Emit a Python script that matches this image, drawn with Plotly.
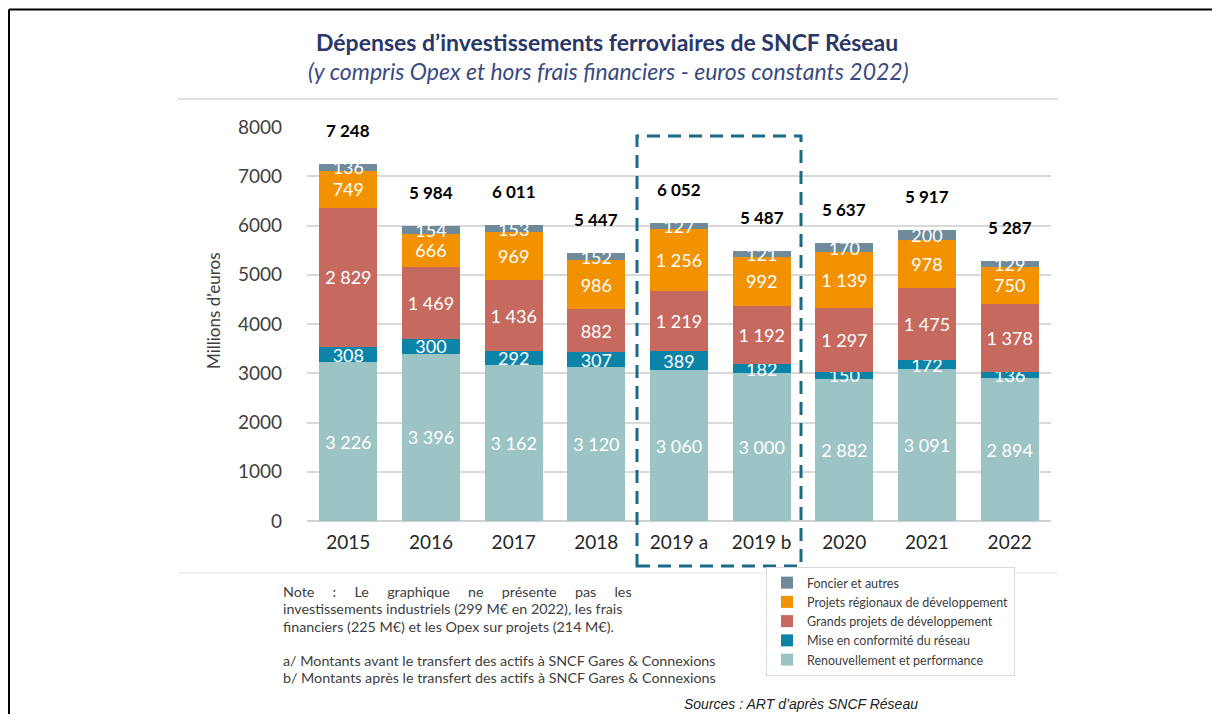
import plotly.graph_objects as go

# ---------------- data ----------------
categories = ["2015", "2016", "2017", "2018", "2019 a", "2019 b", "2020", "2021", "2022"]
renouvellement = [3226, 3396, 3162, 3120, 3060, 3000, 2882, 3091, 2894]
mise_conformite = [308, 300, 292, 307, 389, 182, 150, 172, 136]
grands_projets = [2829, 1469, 1436, 882, 1219, 1192, 1297, 1475, 1378]
projets_regionaux = [749, 666, 969, 986, 1256, 992, 1139, 978, 750]
foncier = [136, 154, 153, 152, 127, 121, 170, 200, 129]
totals = [7248, 5984, 6011, 5447, 6052, 5487, 5637, 5917, 5287]
y_ticks = [0, 1000, 2000, 3000, 4000, 5000, 6000, 7000, 8000]

series_names = [
    "Renouvellement et performance",
    "Mise en conformité du réseau",
    "Grands projets de développement",
    "Projets régionaux de développement",
    "Foncier et autres",
]
series_values = [renouvellement, mise_conformite, grands_projets, projets_regionaux, foncier]
series_colors = ["#9DC4C4", "#0C84A8", "#C66A60", "#F29200", "#6F8A9A"]

note_lines = [
    "Note : Le graphique ne présente pas les",
    "investissements industriels (299 M€ en 2022), les frais",
    "financiers (225 M€) et les Opex sur projets (214 M€).",
    "a/ Montants avant le transfert des actifs à SNCF Gares &amp; Connexions",
    "b/ Montants après le transfert des actifs à SNCF Gares &amp; Connexions",
]

# ---------------- layout geometry (screen pixels) ----------------
SW, SH = 1220, 722
OFF = 8  # page body margin on each side
W, H = SW - 2 * OFF, SH - 2 * OFF
RIGHT, BOTTOM = OFF + W, OFF + H  # screen coords of figure's right/bottom edges
PL, PR, PT, PB = 307, 1051, 127, 521  # plot area in screen pixels


def px_x(p):
    return (p - PL) / (PR - PL)


def px_y(p):
    return (PB - p) / (PB - PT)


def fmt(v):
    return f"{v:,}".replace(",", " ")


FONT = "Lato, 'Open Sans', sans-serif"

fig = go.Figure()
for name, vals, col in zip(series_names, series_values, series_colors):
    fig.add_trace(go.Bar(
        x=categories, y=vals, name=name,
        marker=dict(color=col, line=dict(width=0)),
        text=[fmt(v) for v in vals],
        textposition="inside", insidetextanchor="middle",
        constraintext="none", textangle=0,
        textfont=dict(color="white", size=18, family=FONT),
        cliponaxis=False,
    ))

annotations = []
for i, t in enumerate(totals):
    annotations.append(dict(
        x=i, y=t, xref="x", yref="y", text="<b>" + fmt(t) + "</b>",
        showarrow=False, yanchor="bottom", yshift=21,
        font=dict(size=17, color="#000000", family=FONT),
    ))

# titles
annotations.append(dict(
    x=px_x(607), y=px_y(42), xref="paper", yref="paper",
    text="<b>Dépenses d’investissements ferroviaires de SNCF Réseau</b>",
    showarrow=False, xanchor="center", yanchor="middle",
    font=dict(size=23, color="#2B3768", family=FONT),
))
annotations.append(dict(
    x=px_x(608), y=px_y(71), xref="paper", yref="paper",
    text="<i>(y compris Opex et hors frais financiers - euros constants 2022)</i>",
    showarrow=False, xanchor="center", yanchor="middle",
    font=dict(size=23, color="#3A4A80", family=FONT),
))
# y axis title
annotations.append(dict(
    x=px_x(213), y=px_y(311), xref="paper", yref="paper",
    text="Millions d'euros", textangle=-90,
    showarrow=False, xanchor="center", yanchor="middle",
    font=dict(size=17, color="#404040", family=FONT),
))
# note (one annotation per line; first line spread like the justified original)
note_y = [591, 608.5, 626, 660, 677]
for k, (line, yy) in enumerate(zip(note_lines, note_y)):
    txt = line
    if k == 0:
        txt = line.replace(" ", " \u00a0\u00a0\u00a0\u00a0")
    annotations.append(dict(
        x=px_x(281), y=px_y(yy), xref="paper", yref="paper",
        text=txt, showarrow=False, xanchor="left", yanchor="middle", align="left",
        font=dict(size=14.3, color="#404040", family=FONT),
    ))
# sources
annotations.append(dict(
    x=px_x(682), y=px_y(704), xref="paper", yref="paper",
    text="<i>Sources : ART d’après SNCF Réseau</i>",
    showarrow=False, xanchor="left", yanchor="middle",
    font=dict(size=14, color="#222222", family="'Liberation Sans', Arial, sans-serif"),
))

shapes = [
    # dashed highlight box
    dict(type="rect", xref="paper", yref="paper",
         x0=px_x(637), x1=px_x(801), y0=px_y(566), y1=px_y(136),
         line=dict(color="#1B6A87", width=3, dash="13px,8px"), layer="above"),
    # separator lines
    dict(type="line", xref="paper", yref="paper",
         x0=px_x(178), x1=px_x(1058), y0=px_y(99), y1=px_y(99),
         line=dict(color="#D6D6D6", width=1.5)),
    dict(type="line", xref="paper", yref="paper",
         x0=px_x(178), x1=px_x(1058), y0=px_y(573), y1=px_y(573),
         line=dict(color="#E4E4E4", width=1)),
    # frame lines
    dict(type="line", xref="paper", yref="paper",
         x0=px_x(9), x1=px_x(RIGHT), y0=px_y(9.5), y1=px_y(9.5),
         line=dict(color="#000000", width=2)),
    dict(type="line", xref="paper", yref="paper",
         x0=px_x(9), x1=px_x(9), y0=px_y(9.5), y1=px_y(BOTTOM),
         line=dict(color="#000000", width=2)),
]

fig.update_layout(
    width=W, height=H,
    margin=dict(l=PL - OFF, r=RIGHT - PR, t=PT - OFF, b=BOTTOM - PB, pad=0),
    paper_bgcolor="white", plot_bgcolor="white",
    barmode="stack", bargap=0.3,
    showlegend=True,
    legend=dict(
        x=px_x(766), y=px_y(567), xanchor="left", yanchor="top",
        traceorder="reversed", bgcolor="white",
        bordercolor="#D9D9D9", borderwidth=1,
        font=dict(size=12.5, color="#404040", family=FONT),
        itemclick=False,
    ),
    xaxis=dict(
        type="category", categoryorder="array", categoryarray=categories,
        range=[-0.5, len(categories) - 0.5], autorange=False,
        showgrid=False, showline=False, zeroline=False,
        tickfont=dict(size=19, color="#262626", family=FONT),
        ticklabelstandoff=8,
    ),
    yaxis=dict(
        range=[0, 8001], autorange=False, tickvals=y_ticks,
        showgrid=True, gridcolor="#D9D9D9", gridwidth=1.5,
        zeroline=True, zerolinecolor="#D0D0D0", zerolinewidth=2,
        showline=False,
        tickfont=dict(size=19, color="#404040", family=FONT),
        ticklabelstandoff=24,
    ),
    annotations=annotations,
    shapes=shapes,
)

fig.write_html("out.html", config={"displayModeBar": False})
